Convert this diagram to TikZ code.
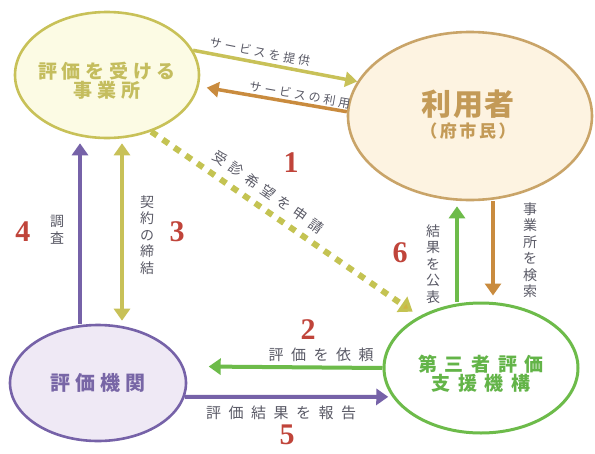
\documentclass[tikz,border=0pt]{standalone}
\usepackage{fontspec}
\newfontfamily\jp{Noto Sans CJK JP}
\newfontfamily\numf{Liberation Serif}
\usetikzlibrary{shapes.geometric,arrows.meta}
\definecolor{colOl}{HTML}{C8C158}
\definecolor{colOlFill}{HTML}{FCFBE4}
\definecolor{colOlText}{HTML}{C4BD5E}
\definecolor{colBr}{HTML}{C9A468}
\definecolor{colBrFill}{HTML}{FDF3E1}
\definecolor{colBrText}{HTML}{C39A57}
\definecolor{colBrArr}{HTML}{C98B3E}
\definecolor{colPu}{HTML}{7662A8}
\definecolor{colPuFill}{HTML}{EFE9F5}
\definecolor{colPuText}{HTML}{7866A6}
\definecolor{colGr}{HTML}{6DBB4A}
\definecolor{colGrText}{HTML}{63B448}
\definecolor{colDash}{HTML}{C4C352}
\definecolor{labgray}{HTML}{5A5A66}
\definecolor{numred}{HTML}{C0443A}
\newcommand\lsp[1]{\addfontfeature{LetterSpace=#1}}
\tikzset{
  bub/.style={ellipse, draw, inner sep=0pt, line width=2.6pt},
  ctext/.style={inner sep=0pt, align=center},
  lbl/.style={font=\jp\fontsize{12}{14}\selectfont\lsp{25}, text=labgray, inner sep=0pt},
  hlbl/.style={font=\jp\fontsize{15}{17}\selectfont\lsp{50}, text=labgray, inner sep=0pt},
  vlbl/.style={font=\jp\fontsize{14}{16.5}\selectfont, text=labgray, inner sep=0pt, align=center},
  num/.style={font=\numf\bfseries\fontsize{30}{30}\selectfont, text=numred, inner sep=0pt},
  arr/.style={line width=4pt, -{Triangle[width=16pt,length=12pt]}},
  darr/.style={line width=4pt, {Triangle[width=16pt,length=12pt]}-{Triangle[width=16pt,length=12pt]}},
}
\begin{document}
\begin{tikzpicture}[x=1pt,y=-1pt]
\useasboundingbox[fill=white] (0,0) rectangle (595,453);

% bubbles
\node[bub, draw=colOl, fill=colOlFill, minimum width=184pt, minimum height=126pt] (A) at (107,75) {};
\node[bub, draw=colBr, fill=colBrFill, minimum width=244pt, minimum height=168pt] (U) at (470,116) {};
\node[bub, draw=colPu, fill=colPuFill, minimum width=176pt, minimum height=116pt] (E) at (98,383) {};
\node[bub, draw=colGr, fill=white, line width=3pt, minimum width=194pt, minimum height=130pt] (S) at (481,368) {};

% bubble texts
\node[ctext, text=colOlText, font=\jp\bfseries\fontsize{19}{18}\selectfont\lsp{25}] (At) at (107,81)
      {評価を受ける\\事業所};
\node[ctext, text=colBrText, font=\jp\bfseries\fontsize{30}{30}\selectfont\lsp{5}] (Ut1) at (468,104) {利用者};
\node[ctext, text=colBrText, font=\jp\bfseries\fontsize{17}{17}\selectfont\lsp{15}] (Ut2) at (468,131) {（府市民）};
\node[ctext, text=colPuText, font=\jp\bfseries\fontsize{20}{20}\selectfont\lsp{25}] (Et) at (98,383) {評価機関};
\node[ctext, text=colGrText, font=\jp\bfseries\fontsize{19}{19}\selectfont\lsp{40}] (St) at (481,374)
      {第三者評価\\支援機構};

% helper coordinates for vertical connectors
\coordinate (v4) at (80,0);
\coordinate (v3) at (122,0);
\coordinate (v6) at (457,0);
\coordinate (vs) at (493,0);

% top arrows
\draw[colOl, line width=3.5pt, -{Triangle[width=15pt,length=12pt]}] (A.16) -- (U.163);
\draw[colBrArr, line width=3.5pt, -{Triangle[width=15pt,length=12pt]}, shorten >=8pt] (U.178) -- (A.-7);
\node[lbl, rotate=-11] (t1) at (260,52) {サービスを提供};
\node[lbl, rotate=-10] (t2) at (300,95) {サービスの利用};

% dashed diagonal
\draw[colDash, line width=6pt, dash pattern=on 7pt off 7pt,
      -{Triangle[width=18pt,length=13pt,fill=colDash!80!orange]}, shorten >=8pt] (A.-52) -- (S.140);
\node[lbl, font=\jp\fontsize{14}{16}\selectfont\lsp{40}, rotate=-35] (t3) at (268,192) {受診希望を申請};
\node[num] (n1) at (291,163) {1};

% left verticals
\draw[colPu, arr, shorten >=4pt] (E.north -| v4) -- (A.south -| v4);
\draw[colOl, darr, shorten >=3pt, shorten <=4pt] (A.south -| v3) -- (E.north -| v3);
\node[vlbl] (t4) at (57,230) {調\\査};
\node[num] (n4) at (23,232) {4};
\node[vlbl] (t5) at (147,235) {契\\約\\の\\締\\結};
\node[num] (n3) at (177,232) {3};

% bottom horizontals
\draw[colGr, arr, shorten >=25pt] (S.180) -- (E.11);
\node[hlbl] (t6) at (321,355) {評価を依頼};
\node[num] (n2) at (308,330) {2};
\draw[colPu, arr, shorten >=4pt] (E.-9) -- (S.198);
\node[hlbl] (t7) at (281,413) {評価結果を報告};
\node[num] (n5) at (287,435) {5};

% right verticals
\draw[colGr, arr, shorten >=5pt] (S.north -| v6) -- (U.south -| v6);
\draw[colBrArr, arr, shorten >=6pt] (U.south -| vs) -- (S.north -| vs);
\node[vlbl] (t8) at (433,264) {結\\果\\を\\公\\表};
\node[num] (n6) at (400,253) {6};
\node[vlbl] (t9) at (530,250) {事\\業\\所\\を\\検\\索};
\end{tikzpicture}
\end{document}
